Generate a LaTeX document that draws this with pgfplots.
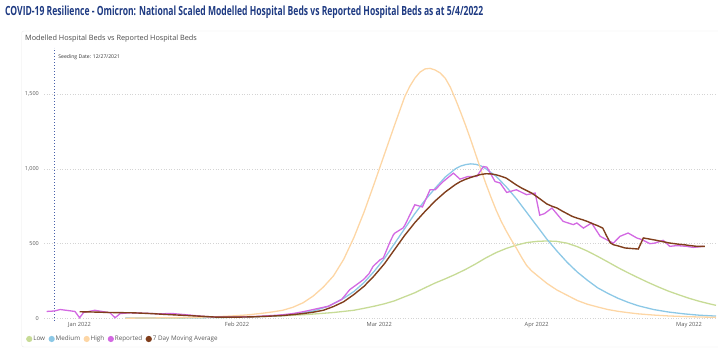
\documentclass[border=0pt]{standalone}
\usepackage{pgfplots}
\pgfplotsset{compat=1.18}
\usepackage{fontspec}
\setmainfont{Open Sans}
\usepackage{graphicx}
\definecolor{lowc}{RGB}{199,219,150}
\definecolor{medc}{RGB}{140,200,230}
\definecolor{highc}{RGB}{253,214,165}
\definecolor{repc}{RGB}{211,105,226}
\definecolor{mac}{RGB}{128,62,28}
\definecolor{seedc}{RGB}{70,95,170}
\definecolor{titlec}{RGB}{30,58,130}
\definecolor{txtc}{RGB}{90,90,90}
\begin{document}
\begin{tikzpicture}[x=1pt,y=1pt]
\useasboundingbox (0,0) rectangle (718,353);
\draw[draw=black!9, rounded corners=2pt] (21.7,6) rectangle (722,322);
\node[anchor=west, inner sep=0pt, text=titlec] at (5,340.5) {\resizebox{478pt}{9.6pt}{\bfseries COVID-19 Resilience - Omicron: National Scaled Modelled Hospital Beds vs Reported Hospital Beds as at 5/4/2022}};
\node[anchor=west, inner sep=0pt, text=black!72, font=\fontsize{7.3}{8}\selectfont] at (25,314.7) {Modelled Hospital Beds vs Reported Hospital Beds};
\begin{axis}[
  at={(44pt,32pt)}, anchor=south west,
  scale only axis, width=672pt, height=273pt,
  xmin=-7, xmax=125.3, ymin=-16.7, ymax=1807,
  axis line style={draw=none},
  major tick length=0pt, tick style={draw=none},
  ytick={0,500,1000,1500},
  xtick={0,31,59,90,120},
  xticklabels={Jan 2022,Feb 2022,Mar 2022,Apr 2022,May 2022},
  /pgf/number format/assume math mode=true,
  /pgf/number format/1000 sep={,},
  yticklabel style={font=\fontsize{5.5}{6}\selectfont, text=txtc, inner sep=0pt, xshift=-5pt},
  xticklabel style={font=\fontsize{5.7}{6}\selectfont, text=txtc, inner sep=0pt, yshift=-1.2pt},
  ymajorgrids,
  grid style={black!17, line width=0.5pt, dash pattern=on 0.6pt off 2pt},
  legend columns=5,
  legend style={draw=none, fill=none, at={(-0.0268,-0.0659)}, anchor=west,
    font=\fontsize{6.3}{7}\selectfont, text=txtc, inner sep=0pt,
    /tikz/every even column/.append style={column sep=2.5pt},
    nodes={inner sep=1pt}},
  legend image code/.code={\fill[#1] (2pt,0pt) circle (2.4pt);},
]
\addplot[forget plot, seedc, line width=1.1pt, dash pattern=on 1pt off 2pt] coordinates {(-5,-16.7)(-5,1807)};
\node[anchor=west, inner sep=0pt, font=\fontsize{5.1}{6}\selectfont, text=black!80] at (axis cs:-5,1747) {\hspace{4pt}Seeding Date: 12/27/2021};
\addplot[lowc, line width=1.3pt] coordinates {(9,2)(15,3)(20,4)(25,6)(30,8)(35,12)(40,18)(45,27)(50,40)(54,55)(56,68)(58,82)(60,98)(62,118)(64,145)(66,172)(68,205)(70,237)(72,265)(74,295)(76,328)(78,365)(80,405)(82,440)(84,468)(86,490)(88,507)(90,515)(92,518)(94,515)(96,503)(98,480)(100,450)(102,415)(104,378)(106,340)(108,305)(110,272)(112,240)(114,210)(116,182)(118,158)(120,135)(122,115)(124,98)(125.3,88)};
\addlegendentry{Low}
\addplot[medc, line width=1.3pt] coordinates {(9,3)(15,4)(20,5)(25,6)(30,8)(35,12)(40,20)(43,32)(46,50)(49,82)(52,135)(54,180)(56,240)(58,315)(60,400)(62,500)(64,600)(66,700)(68,790)(70,870)(72,945)(74,1000)(75,1018)(76,1028)(77,1033)(78,1030)(79,1020)(80,1000)(82,950)(84,880)(86,800)(88,710)(90,620)(92,530)(94,450)(96,375)(98,310)(100,255)(102,205)(104,168)(106,135)(108,108)(110,85)(113,60)(116,43)(119,31)(122,22)(125.3,16)};
\addlegendentry{Medium}
\addplot[highc, line width=1.3pt] coordinates {(9,2)(12,3)(15,4)(18,5)(21,7)(24,9)(27,12)(30,17)(33,24)(36,35)(38,44)(40,55)(42,75)(44,105)(46,150)(48,210)(50,285)(52,395)(54,540)(56,710)(58,900)(60,1095)(62,1290)(64,1480)(65,1550)(66,1605)(67,1645)(68,1667)(69,1671)(70,1660)(71,1640)(72,1605)(73,1545)(74,1465)(75,1380)(76,1290)(77,1195)(78,1095)(79,995)(80,900)(81,810)(82,725)(83,650)(84,585)(85,525)(86,470)(87,410)(88,355)(89,318)(90,290)(92,235)(94,190)(96,155)(98,120)(100,95)(102,77)(104,60)(106,48)(108,39)(110,31)(113,23)(116,17)(119,13)(122,10)(125.3,8)};
\addlegendentry{High}
\addplot[repc, line width=1.3pt] coordinates {(-6.5,47)(-5,50)(-3.8,60)(-2,52)(-0.9,47)(0,5)(0.8,40)(3,55)(6,38)(7,5)(8,33)(10,38)(13,35)(16,31)(18,34)(20,28)(22,22)(24,15)(26,11)(28,9)(30,9)(32,11)(35,14)(38,20)(40,25)(42,33)(44,45)(46,60)(49,82)(51.6,127)(53.2,193)(54.5,225)(55.9,260)(57,300)(57.8,349)(59.2,393)(59.8,404)(61.1,510)(61.8,560)(62.1,571)(63.7,605)(64.1,627)(66,760)(67.5,745)(69,860)(70,860)(71.6,915)(73.6,971)(74.9,931)(76.5,949)(78.2,949)(79.5,1015)(80.2,1011)(81.8,915)(82.8,905)(84.1,842)(86,860)(88,827)(89.7,838)(90.6,690)(91.5,700)(93,738)(95.2,649)(97.2,627)(97.9,638)(99.2,604)(100.8,638)(102.5,549)(104.4,515)(105.1,504)(106.4,549)(108,571)(109.7,538)(110.7,527)(112.3,500)(113.3,504)(114.9,522)(116.2,482)(117.6,487)(119.5,482)(120.8,475)(122.8,482)};
\addlegendentry{Reported}
\addplot[mac, line width=1.4pt] coordinates {(0,45)(2,44)(4,42)(6,40)(8,39)(10.5,38)(14,33)(17,27)(20,22)(24,15)(27,9)(31,9)(34,11)(37,15)(40,20)(42,26)(44,33)(46,42)(48,55)(50,80)(52,112)(54,160)(56,215)(58,285)(60,365)(62,460)(64,555)(66,640)(68,715)(70,785)(72,845)(74,895)(75,915)(76,930)(77,942)(78,953)(79,962)(80,967)(81,966)(82,960)(83,950)(84,938)(85,915)(86,892)(87,872)(88,855)(89,838)(90,815)(91,790)(92,765)(93,750)(94,738)(95,718)(96,700)(97,682)(98,670)(99,660)(100,648)(101,633)(102,620)(103,604)(103.8,549)(104.5,505)(105.1,493)(106,485)(107.4,471)(110,464)(111,538)(112,532)(113.6,522)(115,512)(116.2,504)(118,496)(119,493)(120,488)(121.5,482)(123.1,482)};
\addlegendentry{7 Day Moving Average}
\end{axis}
\end{tikzpicture}
\end{document}
